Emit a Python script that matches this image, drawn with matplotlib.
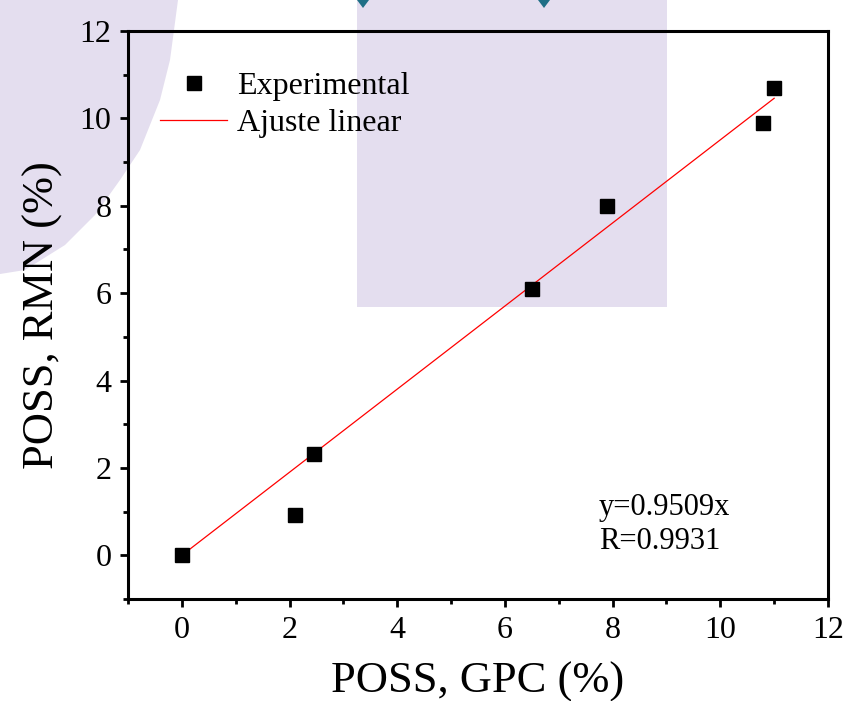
import numpy as np
import matplotlib
matplotlib.use("Agg")
import matplotlib.pyplot as plt
from matplotlib.patches import Polygon

# data
gpc = [0.0, 2.1, 2.45, 6.5, 7.9, 10.8, 11.0]
rmn = [0.0, 0.93, 2.32, 6.1, 8.0, 9.9, 10.7]
slope = 0.9509
fit_x = [0.0, 11.0]
fit_y = [slope * v for v in fit_x]

plt.rcParams["font.family"] = ["Liberation Serif", "DejaVu Serif"]

W, H = 848, 701
fig = plt.figure(figsize=(W / 100, H / 100), dpi=100)

# lavender background blocks behind the plot
lav = "#e4deef"
def fig_poly(pts, color):
    fig.patches.append(Polygon([(x / W, 1 - y / H) for x, y in pts], closed=True,
                               transform=fig.transFigure, facecolor=color,
                               edgecolor="none", zorder=-5))

fig_poly([(357, 0), (667, 0), (667, 307), (357, 307)], lav)
fig_poly([(0, 0), (178, 0), (170, 60), (160, 100), (140, 150), (120, 180),
          (95, 215), (65, 245), (25, 270), (0, 274)], lav)
for cx in [363, 544]:
    fig_poly([(cx - 6, 0), (cx + 6, 0), (cx, 8)], "#1f6f86")

ax = fig.add_axes([128 / W, 102 / H, 700 / W, 568 / H])
ax.set_facecolor("none")
ax.set_zorder(1)

ax.plot(gpc, rmn, "s", color="black", markersize=9.5, label="Experimental", zorder=3)
ax.plot(fit_x, fit_y, "-", color="red", linewidth=0.9, label="Ajuste linear", zorder=2)

ax.set_xlim(-1, 12)
ax.set_ylim(-1, 12)
ax.set_xticks(np.arange(0, 13, 2))
ax.set_yticks(np.arange(0, 13, 2))
ax.set_xticks(np.arange(-1, 12, 2), minor=True)
ax.set_yticks(np.arange(-1, 12, 2), minor=True)

for s in ax.spines.values():
    s.set_linewidth(2.2)
ax.tick_params(which="major", direction="out", length=6, width=2, labelsize=23,
               top=False, right=False, pad=6)
ax.tick_params(which="minor", direction="out", length=3.5, width=2, top=False, right=False)

ax.set_xlabel("POSS, GPC (%)", fontsize=32, labelpad=12)
ax.set_ylabel("POSS, RMN (%)", fontsize=32, labelpad=12)

ax.legend(loc="upper left", bbox_to_anchor=(0.046, 0.929), frameon=False, fontsize=23,
          handlelength=2.1, handletextpad=0.3, labelspacing=0.25, borderpad=0, borderaxespad=0)

ax.text(7.75, 0.7, "y=0.9509x\nR=0.9931", fontsize=22, va="center", ha="left", linespacing=1.25)

fig.savefig("out.png", dpi=100)
